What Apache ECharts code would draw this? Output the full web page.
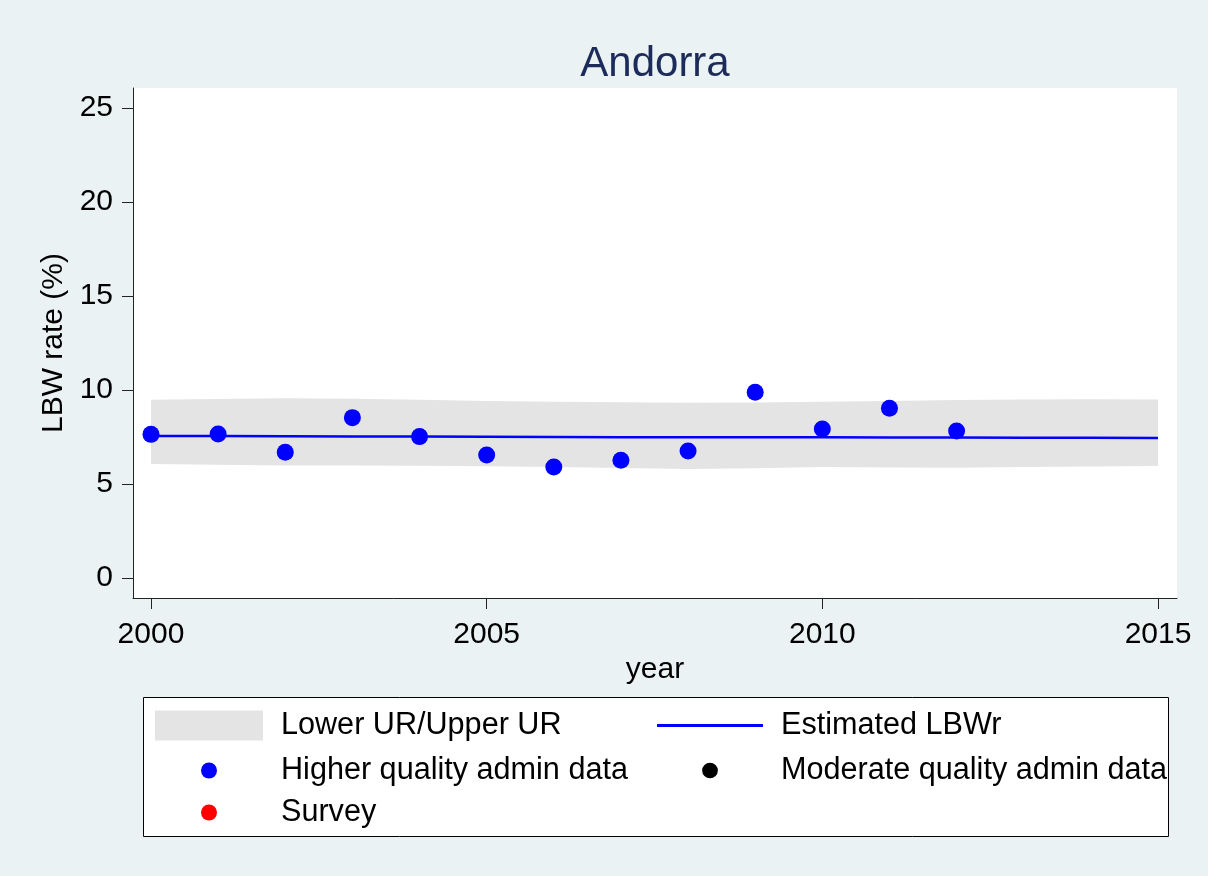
<!DOCTYPE html>
<html>
<head>
<meta charset="utf-8">
<script src="https://cdn.jsdelivr.net/npm/echarts@6/dist/echarts.min.js"></script>
<style>
html,body{margin:0;padding:0;background:#eaf2f3;}
#c{width:1208px;height:876px;}
</style>
</head>
<body>
<div id="c"></div>
<script>
// ---- data ----
const years = [2000,2001,2002,2003,2004,2005,2006,2007,2008,2009,2010,2011,2012,2013,2014,2015];
const estimatedLBWr = [7.55,7.55,7.54,7.53,7.52,7.51,7.50,7.49,7.49,7.48,7.48,7.47,7.47,7.46,7.46,7.45];
const lowerUR = [6.06,6.02,5.99,5.98,5.97,5.95,5.90,5.85,5.80,5.84,5.90,5.88,5.87,5.90,5.93,5.96];
const upperUR = [9.48,9.52,9.56,9.53,9.48,9.42,9.38,9.35,9.32,9.34,9.38,9.42,9.47,9.50,9.51,9.50];
const adminYears = [2000,2001,2002,2003,2004,2005,2006,2007,2008,2009,2010,2011,2012];
const adminHigh = [7.64,7.66,6.69,8.53,7.52,6.54,5.90,6.26,6.76,9.88,7.93,9.03,7.82];
const moderateYears = [];
const adminModerate = [];
const surveyYears = [];
const survey = [];
const xTicks = [2000,2005,2010,2015];
const yTicks = [0,5,10,15,20,25];

const FONT = "'Liberation Sans', Arial, Helvetica, sans-serif";
const BAND = '#e4e4e4';
const chart = echarts.init(document.getElementById('c'), null, {renderer:'canvas'});

const legendCommon = {
  padding: 0,
  orient: 'horizontal',
  selectedMode: false,
  textStyle: {fontSize: 30.6, color: '#000', fontFamily: FONT, padding: [0,0,0,13]}
};
// circle icon (r=8) centred in a 108x16 box
const dotIcon = 'path://M0,0 M46,8 A8,8 0 1 1 62,8 A8,8 0 1 1 46,8 Z M108,16';

const option = {
  backgroundColor: '#eaf2f3',
  animation: false,
  title: {
    text: 'Andorra',
    left: 655,
    top: 43,
    textAlign: 'center',
    padding: 0,
    textStyle: {fontSize: 42, fontWeight: 'normal', color: '#1c2b5a', fontFamily: FONT}
  },
  grid: {
    left: 133, right: 31, top: 88, bottom: 278,
    show: true, backgroundColor: '#ffffff', borderWidth: 0,
    containLabel: false
  },
  xAxis: {
    type: 'value',
    min: 1999.732, max: 2015.283,
    name: 'year',
    nameLocation: 'middle',
    nameGap: 47,
    nameTextStyle: {fontSize: 30, color: '#000', fontFamily: FONT},
    axisLine: {show: true, onZero: false, lineStyle: {color: '#222', width: 1}},
    axisTick: {show: true, length: 11, customValues: xTicks, lineStyle: {color: '#222', width: 1}},
    axisLabel: {customValues: xTicks, formatter: v => String(v), fontSize: 30, color: '#000', fontFamily: FONT, margin: 22},
    splitLine: {show: false}
  },
  yAxis: {
    type: 'value',
    min: -1.064, max: 26.064,
    name: 'LBW rate (%)',
    nameLocation: 'middle',
    nameGap: 54,
    nameTextStyle: {fontSize: 30, color: '#000', fontFamily: FONT},
    axisLine: {show: true, onZero: false, lineStyle: {color: '#222', width: 1}},
    axisTick: {show: true, length: 11, customValues: yTicks, lineStyle: {color: '#222', width: 1}},
    axisLabel: {customValues: yTicks, formatter: v => String(v), fontSize: 30, color: '#000', fontFamily: FONT, margin: 20},
    splitLine: {show: false}
  },
  legend: [
    Object.assign({}, legendCommon, {
      data: ['Lower UR/Upper UR'], left: 155, top: 710,
      icon: 'rect', itemWidth: 108, itemHeight: 30,
      itemStyle: {color: BAND, borderWidth: 0}
    }),
    Object.assign({}, legendCommon, {
      data: ['Estimated LBWr'], left: 657, top: 710,
      icon: 'path://M0,0 M0,5.5 L106,5.5 L106,8.5 L0,8.5 Z M106,14',
      itemWidth: 106, itemHeight: 14,
      itemStyle: {color: '#0000ff', borderWidth: 0}
    }),
    Object.assign({}, legendCommon, {
      data: ['Higher quality admin data'], left: 155, top: 755,
      icon: dotIcon, itemWidth: 108, itemHeight: 16,
      itemStyle: {color: '#0000ff', borderWidth: 0, opacity: 1}
    }),
    Object.assign({}, legendCommon, {
      data: ['Moderate quality admin data'], left: 657, top: 755,
      icon: dotIcon, itemWidth: 106, itemHeight: 16,
      itemStyle: {color: '#000000', borderWidth: 0, opacity: 1}
    }),
    Object.assign({}, legendCommon, {
      data: ['Survey'], left: 155, top: 797,
      icon: dotIcon, itemWidth: 108, itemHeight: 16,
      itemStyle: {color: '#ff0000', borderWidth: 0, opacity: 1}
    })
  ],
  graphic: [{
    type: 'rect', z: 0,
    shape: {x: 143.5, y: 697.5, width: 1025, height: 139},
    style: {fill: '#ffffff', stroke: '#000', lineWidth: 1}
  }],
  series: [
    {
      name: 'Lower UR/Upper UR', type: 'custom', silent: true, z: 2,
      data: years.map((y, i) => [y, lowerUR[i], upperUR[i]]),
      encode: {x: 0, y: [1, 2]},
      itemStyle: {color: BAND},
      renderItem: function (params, api) {
        if (params.dataIndex !== 0) return null;
        const pts = [];
        for (let i = 0; i < years.length; i++) pts.push(api.coord([years[i], upperUR[i]]));
        for (let i = years.length - 1; i >= 0; i--) pts.push(api.coord([years[i], lowerUR[i]]));
        return {type: 'polygon', shape: {points: pts}, style: {fill: BAND, stroke: null}, silent: true};
      }
    },
    {
      name: 'Estimated LBWr', type: 'line', symbol: 'none',
      data: years.map((y, i) => [y, estimatedLBWr[i]]),
      lineStyle: {color: '#0000ff', width: 2.5},
      itemStyle: {color: '#0000ff'}, z: 3
    },
    {
      name: 'Higher quality admin data', type: 'scatter', symbol: 'circle', symbolSize: 17,
      data: adminYears.map((y, i) => [y, adminHigh[i]]),
      itemStyle: {color: '#0000ff', opacity: 1}, z: 4
    },
    {
      name: 'Moderate quality admin data', type: 'scatter', symbol: 'circle', symbolSize: 17,
      data: moderateYears.map((y, i) => [y, adminModerate[i]]),
      itemStyle: {color: '#000000', opacity: 1}, z: 4
    },
    {
      name: 'Survey', type: 'scatter', symbol: 'circle', symbolSize: 17,
      data: surveyYears.map((y, i) => [y, survey[i]]),
      itemStyle: {color: '#ff0000', opacity: 1}, z: 4
    }
  ]
};
chart.setOption(option);
</script>
</body>
</html>
